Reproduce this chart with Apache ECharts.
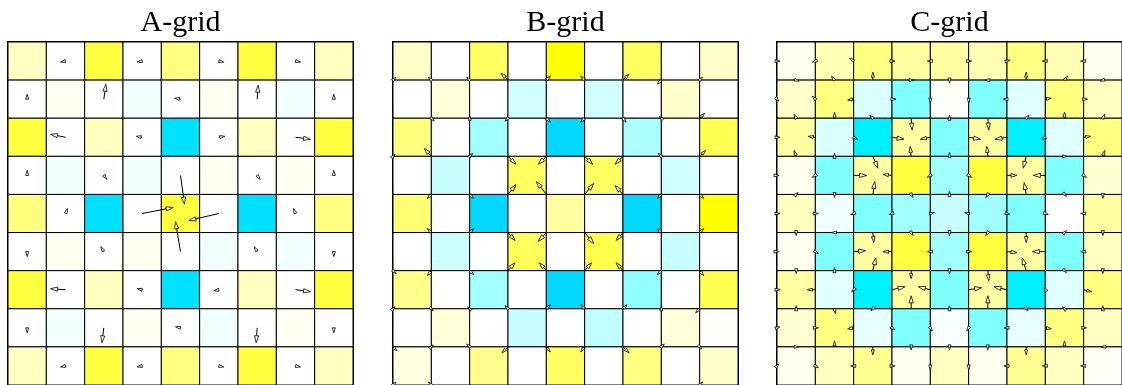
<!DOCTYPE html>
<html>
<head>
<meta charset="utf-8">
<script src="https://cdn.jsdelivr.net/npm/echarts@6/dist/echarts.min.js"></script>
<style>
  html, body { margin: 0; padding: 0; background: #fff; }
  #grid-chart { width: 1122px; height: 385px; }
</style>
</head>
<body>
<div id="grid-chart"></div>
<script>
var gridNames = ["A-grid", "B-grid", "C-grid"];

// height field, one row per line (top row first); >0 yellow, <0 cyan
var aHeight = [
  [0.25, 0, 0.75, 0, 0.5, 0, 0.75, 0, 0.25],
  [0, 0.05, 0, -0.06, 0, 0.05, 0, -0.06, 0],
  [0.75, 0, 0.25, 0, -1.66, 0, 0.25, 0, 0.75],
  [0, -0.06, 0, -0.06, 0, 0.05, 0, 0.05, 0],
  [0.5, 0, -1.66, 0, 0.75, 0, -1.66, 0, 0.5],
  [0, 0.05, 0, 0.05, 0, -0.06, 0, -0.06, 0],
  [0.75, 0, 0.25, 0, -1.66, 0, 0.25, 0, 0.75],
  [0, -0.06, 0, 0.05, 0, -0.06, 0, 0.05, 0],
  [0.25, 0, 0.75, 0, 0.5, 0, 0.75, 0, 0.25],
];

var bHeight = [
  [0.22, 0, 0.62, 0, 1.0, 0, 0.62, 0, 0.22],
  [0, 0.15, 0, -0.18, 0, -0.18, 0, 0.2, 0],
  [0.5, 0, -0.37, 0, -1.83, 0, -0.33, 0, 0.68],
  [0, -0.22, 0, 0.62, 0, 0.62, 0, -0.18, 0],
  [0.55, 0, -1.83, 0, 0.37, 0, -1.83, 0, 1.0],
  [0, -0.2, 0, 0.65, 0, 0.7, 0, -0.22, 0],
  [0.45, 0, -0.37, 0, -1.83, 0, -0.43, 0, 0.68],
  [0, 0.15, 0, -0.22, 0, -0.25, 0, 0.15, 0.01],
  [0.12, 0, 0.45, 0, 0.62, 0, 0.5, 0, 0.2],
];

var cHeight = [
  [0.06, 0.3, 0.5, 0.37, 0.37, 0.3, 0.5, 0.3, 0.06],
  [0.22, 0.5, -0.15, -0.5, 0.02, -0.5, -0.12, 0.5, 0.25],
  [0.37, -0.15, -1.32, 0.37, -0.5, 0.37, -1.32, -0.12, 0.5],
  [0.06, -0.5, 0.37, 0.75, -0.37, 0.75, 0.37, -0.5, 0.18],
  [0.25, -0.06, -0.5, -0.37, -0.22, -0.37, -0.5, 0, 0.37],
  [0.06, -0.5, 0.37, 0.75, -0.37, 0.75, 0.37, -0.5, 0.25],
  [0.37, -0.12, -1.32, 0.37, -0.5, 0.37, -1.32, -0.12, 0.5],
  [0.18, 0.5, -0.09, -0.5, -0.03, -0.5, -0.09, 0.5, 0.25],
  [0.06, 0.25, 0.43, 0.06, 0.25, 0.06, 0.43, 0.25, 0.03],
];

// velocity arrows: [x, y, u, v] in grid units (x right, y down), v downward positive
var aArrows = [
  [1.5, 0.5, -5, 1], [3.5, 0.5, -5, 1], [5.5, 0.5, 5, 1], [7.5, 0.5, 5, 1],
  [0.5, 1.5, 0, -5], [2.5, 1.5, 2, -15], [4.5, 1.5, -6, -1], [6.5, 1.5, 1, -14], [8.5, 1.5, 0, -5],
  [1.5, 2.5, -15, -3], [3.5, 2.5, -6, -1], [5.5, 2.5, 6, -1], [7.5, 2.5, 15, 2],
  [0.5, 3.5, 0, -5], [2.5, 3.5, 3, 4], [4.5, 3.5, 4, 29], [6.5, 3.5, 3, 4], [8.5, 3.5, 0, -5],
  [1.5, 4.5, 2, -5], [3.5, 4.5, 31, -6], [5.5, 4.5, -30, 7], [7.5, 4.5, -2, -5],
  [0.5, 5.5, 0, 5], [2.5, 5.5, -3, -5], [4.5, 5.5, -5, -30], [6.5, 5.5, -3, -5], [8.5, 5.5, 0, 5],
  [1.5, 6.5, -15, -1], [3.5, 6.5, -5, -1], [5.5, 6.5, -5, 1], [7.5, 6.5, 15, 2],
  [0.5, 7.5, 0, 5], [2.5, 7.5, -2, 15], [4.5, 7.5, -5, -1], [6.5, 7.5, -1, 15], [8.5, 7.5, 0, 5],
  [1.5, 8.5, -5, 1], [3.5, 8.5, -5, 1], [5.5, 8.5, 5, 1], [7.5, 8.5, 5, 1],
];

var bArrows = [
  [0, 1, 3, -3], [1, 1, -3, -3], [2, 1, -3, -3], [3, 1, -7, -7], [4, 1, 4, -4],
  [5, 1, -4, -4], [6, 1, 6, -6], [7, 1, -4, 4], [8, 1, 3, -3],
  [1, 2, 3, 3], [2, 2, 0, -3], [3, 2, -3, 3], [4, 2, 4, 4], [5, 2, -4, 4],
  [6, 2, 3, 4], [7, 2, -2, -2], [8, 2, 5, -5],
  [0, 3, 2, -2], [1, 3, -7, -8], [2, 3, 3, -3], [3, 3, 8, 8], [4, 3, -8, 8],
  [5, 3, 8, 8], [6, 3, -8, 8], [7, 3, -3, -3], [8, 3, 6, -6],
  [1, 4, -4, 4], [2, 4, 4, 4], [3, 4, 8, -10], [4, 4, -10, -13], [5, 4, 9, -11],
  [6, 4, -8, -9], [7, 4, -4, 4], [8, 4, 4, 4],
  [1, 5, -4, -4], [2, 5, 4, -4], [3, 5, 7, 8], [4, 5, -8, 9], [5, 5, 9, 11],
  [6, 5, -7, 8], [7, 5, -4, -4], [8, 5, 4, -4],
  [0, 6, 3, 3], [1, 6, -4, 5], [2, 6, 4, 4], [3, 6, 7, -8], [4, 6, -7, -8],
  [5, 6, 7, -8], [6, 6, -7, -8], [7, 6, -4, 4], [8, 6, 4, 5],
  [0, 7, 2, -2], [1, 7, 2, 2], [2, 7, -2, -2], [3, 7, -3, -3], [4, 7, 4, -4],
  [5, 7, -4, -4], [6, 7, 4, -4], [7, 7, 0, -3], [8, 7, -4, 4],
  [0, 8, 4, 4], [1, 8, 2, -2], [2, 8, -3, -3], [3, 8, -6, 6], [4, 8, 4, 5],
  [5, 8, -4, 5], [6, 8, 6, 6], [7, 8, 3, -3], [8, 8, 2, 2],
  [0, 9, 3, -3], [1, 9, -3, -3], [8, 9, 3, -3],
];

var cArrows = [
  [0, 0.5, 3, 0], [1, 0.5, -3, 1], [2, 0.5, -4, -3], [3, 0.5, 3, 0], [4, 0.5, -3, 0],
  [5, 0.5, 3, 0], [6, 0.5, 3, -1], [7, 0.5, -3, 0], [8, 0.5, -3, 0],
  [0.5, 1, 3, 1], [1.5, 1, -3, -4], [2.5, 1, 0, -8], [3.5, 1, 3, 0], [4.5, 1, 0, 3],
  [5.5, 1, -3, 0], [6.5, 1, 0, -8], [7.5, 1, 3, -4], [8.5, 1, -3, 1],
  [0, 1.5, 2, 2], [1, 1.5, -3, -3], [2, 1.5, -6, 1], [3, 1.5, 4, 0], [4, 1.5, 0, 4],
  [5, 1.5, 0, 4], [6, 1.5, -4, 0], [7, 1.5, 6, -1], [8, 1.5, 4, 0],
  [0.5, 2, -2, -4], [1.5, 2, 0, -6], [2.5, 2, -3, -3], [3.5, 2, 1, 12], [4.5, 2, 0, -3],
  [5.5, 2, 1, 12], [6.5, 2, 3, -3], [7.5, 2, 0, -6], [8.5, 2, 2, -4],
  [0, 2.5, 3, 0], [1, 2.5, -7, -1], [2, 2.5, 4, 2], [3, 2.5, 12, 2], [4, 2.5, -10, 2],
  [5, 2.5, 12, 2], [6, 2.5, -12, 2], [7, 2.5, -4, 2], [8, 2.5, 7, -1],
  [0.5, 3, -2, -6], [1.5, 3, 0, -3], [2.5, 3, 5, 12], [3.5, 3, -1, -10], [4.5, 3, 0, -4],
  [5.5, 3, -1, -10], [6.5, 3, -3, 12], [7.5, 3, 3, 0], [8.5, 3, 2, -6],
  [0, 3.5, 2, 0], [1, 3.5, -3, 2], [2, 3.5, 13, 0], [3, 3.5, -9, -1], [4, 3.5, -3, 2],
  [5, 3.5, 3, 2], [6, 3.5, 10, 0], [7, 3.5, -12, 0], [8, 3.5, 3, 2],
  [0.5, 4, 2, -2], [1.5, 4, 0, 3], [2.5, 4, 2, -13], [3.5, 4, 2, 3], [4.5, 4, 0, -3],
  [5.5, 4, -2, 3], [6.5, 4, -2, -12], [7.5, 4, 2, 2], [8.5, 4, 0, 4],
  [0, 4.5, 3, 0], [1, 4.5, 3, 0], [2, 4.5, -3, 1], [3, 4.5, -3, 1], [4, 4.5, 4, -1],
  [5, 4.5, -4, -1], [6, 4.5, 3, 1], [7, 4.5, 3, 1], [8, 4.5, -3, 0],
  [0.5, 5, 0, 3], [1.5, 5, -3, 0], [2.5, 5, 1, 10], [3.5, 5, 2, 3], [4.5, 5, 0, 3],
  [5.5, 5, -2, 3], [6.5, 5, 0, 10], [7.5, 5, 2, -2], [8.5, 5, 0, 3],
  [0, 5.5, 2, 0], [1, 5.5, 3, 2], [2, 5.5, 12, -1], [3, 5.5, -9, 0], [4, 5.5, -3, 0],
  [5, 5.5, 3, 0], [6, 5.5, 10, 1], [7, 5.5, -13, 0], [8, 5.5, -3, 0],
  [0.5, 6, 0, 3], [1.5, 6, 0, -3], [2.5, 6, 3, -13], [3.5, 6, 0, 8], [4.5, 6, 0, 3],
  [5.5, 6, 1, 10], [6.5, 6, -4, -13], [7.5, 6, 2, 2], [8.5, 6, 0, 3],
  [0, 6.5, 3, 0], [1, 6.5, -8, 0], [2, 6.5, -2, 2], [3, 6.5, 13, -3], [4, 6.5, -12, -3],
  [5, 6.5, 13, -2], [6, 6.5, -13, -3], [7, 6.5, -2, -2], [8, 6.5, 8, 2],
  [0.5, 7, 0, -3], [1.5, 7, 1, 5], [2.5, 7, -2, 2], [3.5, 7, 0, -13], [4.5, 7, 0, -3],
  [5.5, 7, 0, -13], [6.5, 7, 2, 2], [7.5, 7, -2, -2], [8.5, 7, 0, -3],
  [0, 7.5, 3, -1], [1, 7.5, 3, 0], [2, 7.5, -6, 1], [3, 7.5, 3, 2], [4, 7.5, 2, 3],
  [5, 7.5, -2, 3], [6, 7.5, -3, 0], [7, 7.5, 6, 1], [8, 7.5, 3, 0],
  [0.5, 8, 3, 0], [1.5, 8, 0, -6], [2.5, 8, 0, 8], [3.5, 8, 0, 3], [4.5, 8, 0, 3],
  [5.5, 8, 0, 3], [6.5, 8, 0, 8], [7.5, 8, 0, -6], [8.5, 8, -2, 0],
  [0, 8.5, 2, -2], [1, 8.5, 3, 2], [2, 8.5, -3, 0], [3, 8.5, 3, 0], [4, 8.5, 0, 4],
  [5, 8.5, 0, 4], [6, 8.5, -3, 0], [7, 8.5, -3, 0], [8, 8.5, -3, 0],
];

var heights = [aHeight, bHeight, cHeight];
var arrows = [aArrows, bArrows, cArrows];

var gridLeft = [8, 393, 777];
var gridSize = 345;
var gridTop = 42;
var arrowScale = 9 / gridSize; // velocity units -> grid units

function buildCells(rows) {
  var out = [];
  rows.forEach(function (row, r) {
    row.forEach(function (h, c) {
      out.push([c, r, h]);
    });
  });
  return out;
}

function renderCell(params, api) {
  var c = api.value(0);
  var r = api.value(1);
  var p0 = api.coord([c, r]);
  var p1 = api.coord([c + 1, r + 1]);
  return {
    type: "rect",
    shape: { x: p0[0], y: p0[1], width: p1[0] - p0[0], height: p1[1] - p0[1] },
    style: { fill: api.visual("color"), stroke: "#000", lineWidth: 1 },
  };
}

function renderArrow(params, api) {
  var x = api.value(0);
  var y = api.value(1);
  var p0 = api.coord([x, y]);
  var p1 = api.coord([x + api.value(2) * arrowScale, y + api.value(3) * arrowScale]);
  var dx = p1[0] - p0[0];
  var dy = p1[1] - p0[1];
  var len = Math.sqrt(dx * dx + dy * dy);
  if (len < 0.5) return;
  var ex = dx / len;
  var ey = dy / len;
  var head = Math.min(7, Math.max(5, len * 0.6));
  var half = head * 0.3;
  var bx = p1[0] - ex * head;
  var by = p1[1] - ey * head;
  var children = [];
  if (len > head) {
    children.push({
      type: "line",
      shape: { x1: p0[0], y1: p0[1], x2: bx, y2: by },
      style: { stroke: "#000", lineWidth: 1 },
    });
  }
  children.push({
    type: "polygon",
    shape: {
      points: [
        [p1[0], p1[1]],
        [bx - ey * half, by + ex * half],
        [bx + ey * half, by - ex * half],
      ],
    },
    style: { fill: "#fff", stroke: "#000", lineWidth: 0.8 },
  });
  return { type: "group", children: children };
}

var chartDom = document.getElementById("grid-chart");
var myChart = echarts.init(chartDom);
var option;

var titles = [];
var grids = [];
var xAxes = [];
var yAxes = [];
var series = [];
var cellSeries = [];

for (var i = 0; i < 3; i++) {
  titles.push({
    text: gridNames[i],
    left: gridLeft[i] + gridSize / 2,
    top: 8,
    padding: 0,
    textAlign: "center",
    textStyle: {
      fontFamily: "Liberation Serif",
      fontSize: 30,
      fontWeight: "normal",
      color: "#000",
    },
  });
  grids.push({
    left: gridLeft[i],
    top: gridTop,
    width: gridSize,
    height: gridSize,
    show: true,
    borderColor: "#000",
    borderWidth: 2,
  });
  xAxes.push({ type: "value", gridIndex: i, min: 0, max: 9, show: false });
  yAxes.push({ type: "value", gridIndex: i, min: 0, max: 9, inverse: true, show: false });
  cellSeries.push(series.length);
  series.push({
    type: "custom",
    xAxisIndex: i,
    yAxisIndex: i,
    silent: true,
    z: 1,
    renderItem: renderCell,
    data: buildCells(heights[i]),
  });
  series.push({
    type: "custom",
    xAxisIndex: i,
    yAxisIndex: i,
    silent: true,
    z: 2,
    renderItem: renderArrow,
    data: arrows[i],
  });
}

option = {
  animation: false,
  backgroundColor: "#fff",
  title: titles,
  grid: grids,
  xAxis: xAxes,
  yAxis: yAxes,
  visualMap: {
    type: "continuous",
    show: false,
    seriesIndex: cellSeries,
    dimension: 2,
    min: -2,
    max: 2,
    inRange: {
      color: ["#00d0ff", "#00ffff", "#ffffff", "#ffff00", "#ffff00"],
    },
  },
  series: series,
};

option && myChart.setOption(option);
</script>
</body>
</html>
